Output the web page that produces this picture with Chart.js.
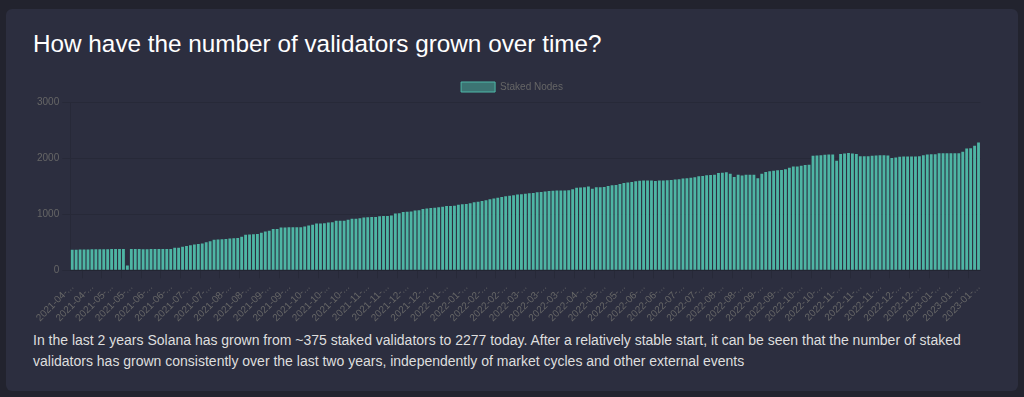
<!DOCTYPE html>
<html>
<head>
<meta charset="utf-8">
<script src="https://cdn.jsdelivr.net/npm/chart.js@4/dist/chart.umd.min.js"></script>
<style>
  html, body { margin: 0; padding: 0; }
  body { width: 1024px; height: 397px; background: #22232e; position: relative; overflow: hidden; font-family: "Liberation Sans", Arial, sans-serif; }
  .card { position: absolute; left: 6px; top: 9px; width: 1012px; height: 382px; background: #2c2e3f; border-radius: 6px; }
  h1 { position: absolute; left: 33px; top: 30px; margin: 0; font-size: 24.3px; line-height: 28px; font-weight: normal; color: #ffffff; white-space: nowrap; }
  p { position: absolute; left: 33px; top: 330px; margin: 0; font-size: 14px; line-height: 21px; color: #dedede; white-space: nowrap; }
  #wrap { position: absolute; left: 34px; top: 72px; width: 956px; height: 255px; }
</style>
</head>
<body>
<div class="card"></div>
<h1>How have the number of validators grown over time?</h1>
<div id="wrap"><canvas id="c"></canvas></div>
<p>In the last 2 years Solana has grown from ~375 staked validators to 2277 today. After a relatively stable start, it can be seen that the number of staked<br>validators has grown consistently over the last two years, independently of market cycles and other external events</p>
<script>
const seriesLabel = "Staked Nodes";

const epochDates = [
"2021-04-04","2021-04-07","2021-04-10","2021-04-13","2021-04-16",
"2021-04-19","2021-04-22","2021-04-25","2021-04-28","2021-05-01",
"2021-05-04","2021-05-07","2021-05-10","2021-05-13","2021-05-16",
"2021-05-19","2021-05-22","2021-05-25","2021-05-28","2021-05-31",
"2021-06-03","2021-06-06","2021-06-09","2021-06-12","2021-06-15",
"2021-06-18","2021-06-21","2021-06-24","2021-06-27","2021-06-30",
"2021-07-03","2021-07-06","2021-07-09","2021-07-12","2021-07-15",
"2021-07-18","2021-07-21","2021-07-24","2021-07-27","2021-07-30",
"2021-08-02","2021-08-05","2021-08-08","2021-08-11","2021-08-14",
"2021-08-17","2021-08-20","2021-08-23","2021-08-26","2021-08-29",
"2021-09-01","2021-09-04","2021-09-07","2021-09-10","2021-09-13",
"2021-09-16","2021-09-19","2021-09-22","2021-09-25","2021-09-28",
"2021-10-01","2021-10-04","2021-10-07","2021-10-10","2021-10-13",
"2021-10-16","2021-10-19","2021-10-22","2021-10-25","2021-10-28",
"2021-10-31","2021-11-03","2021-11-06","2021-11-09","2021-11-12",
"2021-11-14","2021-11-17","2021-11-20","2021-11-23","2021-11-26",
"2021-11-28","2021-12-01","2021-12-04","2021-12-07","2021-12-10",
"2021-12-12","2021-12-15","2021-12-18","2021-12-21","2021-12-24",
"2021-12-26","2021-12-29","2022-01-01","2022-01-04","2022-01-07",
"2022-01-09","2022-01-12","2022-01-15","2022-01-18","2022-01-21",
"2022-01-23","2022-01-26","2022-01-29","2022-02-01","2022-02-04",
"2022-02-06","2022-02-09","2022-02-12","2022-02-15","2022-02-17",
"2022-02-19","2022-02-22","2022-02-24","2022-02-27","2022-03-01",
"2022-03-03","2022-03-06","2022-03-08","2022-03-11","2022-03-13",
"2022-03-16","2022-03-18","2022-03-21","2022-03-23","2022-03-26",
"2022-03-29","2022-04-01","2022-04-04","2022-04-08","2022-04-11",
"2022-04-14","2022-04-17","2022-04-21","2022-04-24","2022-04-28",
"2022-05-01","2022-05-04","2022-05-07","2022-05-10","2022-05-13",
"2022-05-16","2022-05-19","2022-05-22","2022-05-26","2022-05-29",
"2022-06-01","2022-06-04","2022-06-07","2022-06-10","2022-06-13",
"2022-06-16","2022-06-19","2022-06-22","2022-06-25","2022-06-28",
"2022-07-01","2022-07-04","2022-07-07","2022-07-10","2022-07-13",
"2022-07-16","2022-07-19","2022-07-22","2022-07-26","2022-07-29",
"2022-08-01","2022-08-04","2022-08-07","2022-08-10","2022-08-13",
"2022-08-16","2022-08-19","2022-08-22","2022-08-26","2022-08-29",
"2022-09-01","2022-09-04","2022-09-07","2022-09-10","2022-09-13",
"2022-09-16","2022-09-19","2022-09-22","2022-09-25","2022-09-28",
"2022-10-01","2022-10-04","2022-10-07","2022-10-10","2022-10-13",
"2022-10-16","2022-10-19","2022-10-22","2022-10-26","2022-10-29",
"2022-11-01","2022-11-04","2022-11-07","2022-11-10","2022-11-12",
"2022-11-15","2022-11-18","2022-11-21","2022-11-24","2022-11-26",
"2022-11-29","2022-12-01","2022-12-03","2022-12-05","2022-12-07",
"2022-12-09","2022-12-11","2022-12-14","2022-12-16","2022-12-19",
"2022-12-21","2022-12-24","2022-12-26","2022-12-29","2022-12-31",
"2023-01-03","2023-01-05","2023-01-08","2023-01-11","2023-01-14",
"2023-01-17","2023-01-19","2023-01-22","2023-01-25","2023-01-28",
"2023-01-31"
];

const stakedNodes = [
368,368,370,372,372,374,376,376,376,377,
378,379,380,380,88,382,382,380,376,376,
378,378,380,380,380,378,400,402,420,435,
448,460,468,480,500,520,545,550,553,560,
565,570,576,600,635,638,642,647,670,694,
705,735,738,765,765,766,766,767,768,782,
800,811,835,835,838,853,855,882,884,885,
900,917,920,929,940,945,950,952,965,968,
970,975,1011,1015,1040,1044,1047,1065,1070,1095,
1100,1110,1117,1125,1135,1147,1147,1150,1170,1178,
1182,1195,1211,1222,1235,1250,1265,1282,1294,1305,
1318,1330,1340,1350,1355,1365,1372,1380,1390,1398,
1405,1415,1420,1423,1423,1423,1425,1446,1470,1476,
1482,1494,1455,1480,1482,1485,1505,1517,1520,1540,
1555,1564,1576,1588,1595,1600,1600,1600,1590,1600,
1602,1605,1611,1617,1623,1635,1641,1652,1658,1676,
1682,1694,1700,1705,1735,1740,1746,1720,1664,1705,
1688,1705,1705,1705,1641,1723,1752,1764,1776,1782,
1788,1800,1829,1852,1852,1864,1876,1882,2040,2046,
2052,2058,2064,2064,1955,2075,2080,2090,2080,2075,
2035,2035,2035,2040,2045,2050,2050,2045,2000,2009,
2025,2027,2027,2027,2030,2035,2051,2065,2069,2070,
2087,2087,2087,2085,2085,2087,2115,2169,2175,2222,
2277
];

const yTicks = [0, 1000, 2000, 3000];
const xLabelEvery = 5;

new Chart(document.getElementById('c'), {
  type: 'bar',
  data: {
    labels: epochDates,
    datasets: [{
      label: seriesLabel,
      data: stakedNodes,
      backgroundColor: 'rgb(78, 181, 164)',
      borderWidth: 0
    }]
  },
  options: {
    responsive: true,
    maintainAspectRatio: false,
    animation: false,
    layout: { padding: 0 },
    plugins: {
      legend: {
        display: true,
        position: 'top',
        labels: {
          color: '#666',
          boxWidth: 34,
          boxHeight: 10,
          font: { size: 10 },
          generateLabels: function (chart) {
            return chart.data.datasets.map((ds, i) => ({
              text: ds.label,
              fillStyle: 'rgba(75, 185, 168, 0.5)',
              strokeStyle: 'rgb(78, 186, 170)',
              lineWidth: 1,
              fontColor: '#666',
              hidden: !chart.isDatasetVisible(i),
              datasetIndex: i
            }));
          }
        }
      },
      tooltip: { enabled: false }
    },
    scales: {
      x: {
        grid: { drawOnChartArea: false, color: 'rgba(0,0,0,0.1)' },
        afterBuildTicks: function (axis) {
          axis.ticks = axis.ticks.filter(t => t.value % xLabelEvery === 0);
        },
        ticks: {
          color: '#666',
          font: { size: 10 },
          minRotation: 45,
          maxRotation: 45,
          autoSkip: false,
          callback: function (v) {
            const l = this.getLabelForValue(v);
            return l.substring(0, 8) + '...';
          }
        }
      },
      y: {
        min: yTicks[0],
        max: yTicks[yTicks.length - 1],
        grid: { color: 'rgba(0,0,0,0.1)' },
        afterBuildTicks: function (axis) { axis.ticks = yTicks.map(v => ({ value: v })); },
        ticks: { color: '#666', font: { size: 10 }, callback: v => String(v) }
      }
    }
  }
});
</script>
</body>
</html>
